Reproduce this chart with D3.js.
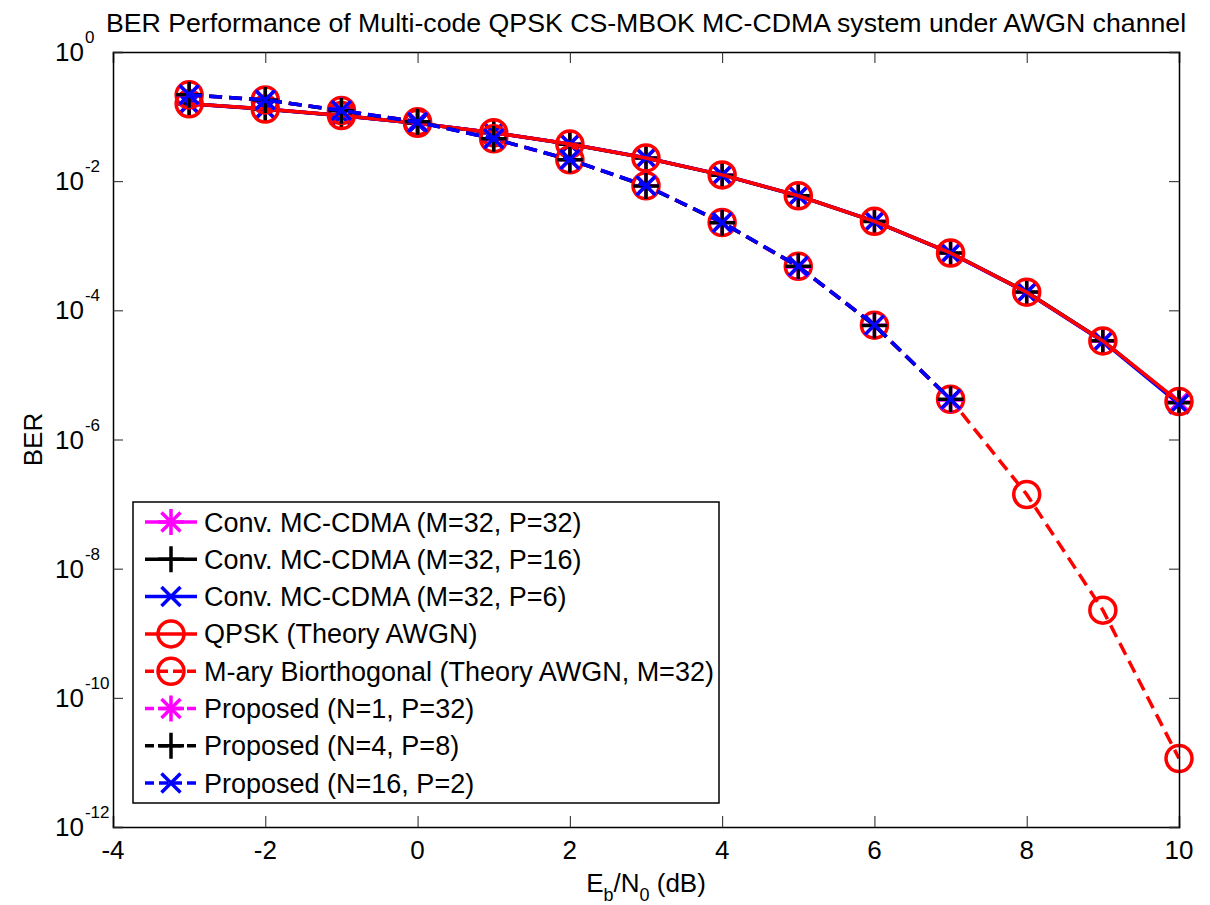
<!DOCTYPE html>
<html><head><meta charset="utf-8">
<script src="https://cdn.jsdelivr.net/npm/d3@7"></script>
<style>
html,body{margin:0;padding:0;background:#fff;}
svg{display:block;font-family:"Liberation Sans",Arial,sans-serif;}
</style></head>
<body><svg id="chart" width="1210" height="905"></svg>
<script>
// ---------- data ----------
const ebn0 = [-3,-2,-1,0,1,2,3,4,5,6,7,8,9,10];
const ebn0Proposed = [-3,-2,-1,0,1,2,3,4,5,6,7];
const convM32P32 = [0.157,0.131,0.104,0.0787,0.0562,0.0376,0.0228,0.0125,0.00596,0.00240,0.000770,0.000190,3.33e-5,3.80e-6];
const convM32P16 = [0.158,0.130,0.104,0.0785,0.0564,0.0374,0.0229,0.0124,0.00594,0.00238,0.000775,0.000192,3.38e-5,3.70e-6];
const convM32P6  = [0.158,0.131,0.103,0.0786,0.0563,0.0375,0.0230,0.0125,0.00593,0.00239,0.000768,0.000189,3.30e-5,3.55e-6];
const qpskTheory = [0.158,0.131,0.104,0.0786,0.0563,0.0375,0.0229,0.0125,0.00595,0.00239,0.000773,0.000191,3.36e-5,3.87e-6];
const biorthTheory = [0.217,0.181,0.124,0.083,0.0453,0.0215,0.0085,0.00229,0.00048,5.9e-5,4.2e-6,1.41e-7,2.28e-9,1.15e-11];
const propN1P32 = [0.216,0.180,0.124,0.083,0.0452,0.0214,0.0085,0.00229,0.00047,5.9e-5,4.1e-6];
const propN4P8  = [0.217,0.181,0.123,0.083,0.0454,0.0215,0.0084,0.00228,0.00048,5.8e-5,4.2e-6];
const propN16P2 = [0.217,0.181,0.124,0.082,0.0453,0.0216,0.0085,0.00230,0.00048,5.9e-5,4.2e-6];
const xTicks = [-4,-2,0,2,4,6,8,10];
const yTickExps = [0,-2,-4,-6,-8,-10,-12];
const legendLabels = ["Conv. MC-CDMA (M=32, P=32)","Conv. MC-CDMA (M=32, P=16)","Conv. MC-CDMA (M=32, P=6)","QPSK (Theory AWGN)","M-ary Biorthogonal (Theory AWGN, M=32)","Proposed (N=1, P=32)","Proposed (N=4, P=8)","Proposed (N=16, P=2)"];
const titleText = "BER Performance of Multi-code QPSK CS-MBOK MC-CDMA system under AWGN channel";

// ---------- series styling ----------
const DASH = "13,7";
const series = [
  {x: ebn0, y: convM32P32, color:"#ff00ff", dash:null, marker:"star", label: legendLabels[0]},
  {x: ebn0, y: convM32P16, color:"#000000", dash:null, marker:"plus", label: legendLabels[1]},
  {x: ebn0, y: convM32P6,  color:"#0000ff", dash:null, marker:"x", label: legendLabels[2]},
  {x: ebn0, y: qpskTheory, color:"#ff0000", dash:null, marker:"circle", label: legendLabels[3]},
  {x: ebn0, y: biorthTheory, color:"#ff0000", dash:DASH, marker:"circle", label: legendLabels[4]},
  {x: ebn0Proposed, y: propN1P32, color:"#ff00ff", dash:DASH, marker:"star", label: legendLabels[5]},
  {x: ebn0Proposed, y: propN4P8,  color:"#000000", dash:DASH, marker:"plus", label: legendLabels[6]},
  {x: ebn0Proposed, y: propN16P2, color:"#0000ff", dash:DASH, marker:"x", label: legendLabels[7]}
];

const svg = d3.select("#chart");
const L = 113, R = 1179, T = 52, B = 827;
const x = d3.scaleLinear().domain([-4,10]).range([L,R]);
const y = d3.scaleLog().domain([1e-12,1]).range([B,T]);

svg.append("rect").attr("x",L).attr("y",T).attr("width",R-L).attr("height",B-T)
  .attr("fill","#fff").attr("stroke","none");

const PLUS = 13, XS = 9.5, CR = 13, SW = 3.5;
function drawMarker(g, type, cx, cy, color){
  const m = g.append("g").attr("transform",`translate(${cx},${cy})`)
    .attr("stroke",color).attr("stroke-width",SW).attr("fill","none");
  if(type==="circle"){ m.append("circle").attr("r",CR); }
  if(type==="plus"||type==="star"){
    m.append("path").attr("d",`M${-PLUS},0H${PLUS}M0,${-PLUS}V${PLUS}`);
  }
  if(type==="x"||type==="star"){
    m.append("path").attr("d",`M${-XS},${-XS}L${XS},${XS}M${-XS},${XS}L${XS},${-XS}`);
  }
}

svg.append("clipPath").attr("id","plotclip").append("rect")
  .attr("x",L-20).attr("y",T-20).attr("width",R-L+40).attr("height",B-T+40);
const plot = svg.append("g").attr("clip-path","url(#plotclip)");
const line = d3.line().x(d=>x(d[0])).y(d=>y(d[1]));
series.forEach(s=>{
  const pts = s.x.map((v,i)=>[v,s.y[i]]);
  const g = plot.append("g");
  g.append("path").datum(pts).attr("d",line).attr("fill","none")
    .attr("stroke",s.color).attr("stroke-width",SW)
    .attr("stroke-dasharray",s.dash).attr("stroke-linejoin","round");
  pts.forEach(p=>drawMarker(g, s.marker, x(p[0]), y(p[1]), s.color));
});

// axes (ticks inside, box)
const yTickVals = yTickExps.map(e=>Math.pow(10,e));
const axB = d3.axisBottom(x).tickValues(xTicks).tickSize(-11).tickFormat("");
const axT = d3.axisTop(x).tickValues(xTicks).tickSize(-11).tickFormat("");
const axL = d3.axisLeft(y).tickValues(yTickVals).tickSize(-10).tickFormat("");
const axR = d3.axisRight(y).tickValues(yTickVals).tickSize(-10).tickFormat("");
[[axB,`translate(0,${B})`],[axT,`translate(0,${T})`],[axL,`translate(${L},0)`],[axR,`translate(${R},0)`]]
 .forEach(([a,t])=>{
   const g = svg.append("g").attr("transform",t).call(a);
   g.select(".domain").attr("stroke","#000").attr("stroke-width",1.5);
   g.selectAll(".tick line").attr("stroke","#222").attr("stroke-width",1);
 });

// x tick labels
svg.append("g").selectAll("text").data(xTicks).join("text")
  .attr("x",d=>x(d)).attr("y",859).attr("text-anchor","middle")
  .attr("font-size",26).attr("fill","#000").text(d=>d);

// y tick labels
const yl = svg.append("g").selectAll("text").data(yTickExps).join("text")
  .attr("x",55).attr("y",d=>y(Math.pow(10,d))+9)
  .attr("font-size",26).attr("fill","#000");
yl.append("tspan").text("10");
yl.append("tspan").attr("font-size",17).attr("dy",-18).attr("dx",1).text(d=>d);

// title
svg.append("text").attr("x",(L+R)/2).attr("y",32).attr("text-anchor","middle")
  .attr("font-size",26.7).attr("fill","#000").text(titleText);

// x label
const xl = svg.append("text").attr("x",(L+R)/2).attr("y",892).attr("text-anchor","middle")
  .attr("font-size",26).attr("fill","#000");
xl.append("tspan").text("E");
xl.append("tspan").attr("font-size",18).attr("dy",9).text("b");
xl.append("tspan").attr("dy",-9).text("/N");
xl.append("tspan").attr("font-size",18).attr("dy",9).text("0");
xl.append("tspan").attr("dy",-9).text(" (dB)");

// y label
svg.append("text").attr("transform",`translate(42,${(T+B)/2}) rotate(-90)`)
  .attr("text-anchor","middle").attr("font-size",26).attr("fill","#000").text("BER");

// legend
const lg = svg.append("g");
const lx0 = 133, ly0 = 502, lw = 586, lh = 301, rowH = 37.3, row0 = 522;
lg.append("rect").attr("x",lx0).attr("y",ly0).attr("width",lw).attr("height",lh)
  .attr("fill","#fff").attr("stroke","#000").attr("stroke-width",1.5);
series.forEach((s,i)=>{
  const cy = row0 + i*rowH;
  lg.append("path").attr("d",`M145,${cy}H197`).attr("stroke",s.color)
    .attr("stroke-width",SW).attr("stroke-dasharray",s.dash ? "9,5" : null).attr("fill","none");
  drawMarker(lg, s.marker, 171, cy, s.color);
  lg.append("text").attr("x",204).attr("y",cy+9.5).attr("font-size",27)
    .attr("fill","#000").text(s.label);
});
</script></body></html>
